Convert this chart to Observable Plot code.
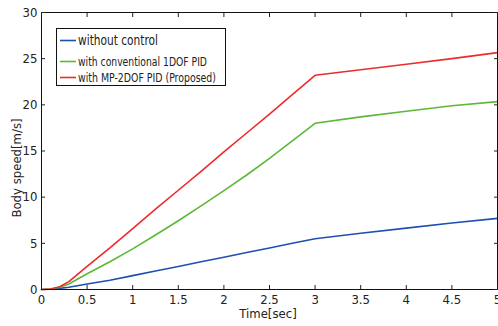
<!DOCTYPE html>
<html><head><meta charset="utf-8">
<script src="https://cdn.jsdelivr.net/npm/d3@7"></script>
<script src="https://cdn.jsdelivr.net/npm/@observablehq/plot@0.6"></script>
<style>
body{margin:0;background:#fff;}
#chart{position:relative;width:498px;height:326px;}
</style></head>
<body><div id="chart"></div>
<script>
const seriesNames = ["without control","with conventional 1DOF PID","with MP-2DOF PID (Proposed)"];
const seriesColors = ["#1f4fb0","#5cb836","#ee2b2b"];
const timeVals  = [0,0.1,0.2,0.3,0.5,0.75,1,1.25,1.5,1.75,2,2.25,2.5,2.75,3,3.5,4,4.5,5];
const blueVals  = [0,0.03,0.12,0.25,0.6,1.0,1.5,2.0,2.5,3.0,3.5,4.0,4.5,5.0,5.5,6.1,6.65,7.2,7.7];
const greenVals = [0,0.05,0.25,0.6,1.7,3.0,4.4,5.9,7.45,9.05,10.7,12.4,14.2,16.1,18.0,18.7,19.3,19.9,20.35];
const redVals   = [0,0.05,0.3,0.85,2.5,4.5,6.6,8.7,10.75,12.8,14.9,16.95,19.0,21.1,23.2,23.8,24.4,25.0,25.65];
const xTicks = [0,0.5,1,1.5,2,2.5,3,3.5,4,4.5,5];
const yTicks = [0,5,10,15,20,25,30];

const FONT = '"DejaVu Sans Condensed","Liberation Sans Narrow","Open Sans",sans-serif';
const allVals = [blueVals, greenVals, redVals];
const data = [];
allVals.forEach((vals, s) => timeVals.forEach((t, i) => data.push({t, v: vals[i], s: seriesNames[s]})));

const plot = Plot.plot({
  width: 498, height: 326,
  marginLeft: 41, marginRight: 1, marginTop: 12, marginBottom: 37,
  style: {fontFamily: FONT, fontSize: "13px", color: "#222"},
  x: {domain: [0, 5]},
  y: {domain: [0, 30]},
  color: {domain: seriesNames, range: seriesColors},
  marks: [
    Plot.line(data, {x: "t", y: "v", stroke: "s", strokeWidth: 1.6}),
    Plot.frame({stroke: "#111", strokeWidth: 1}),
    Plot.axisX({anchor: "bottom", ticks: xTicks, tickSize: -4, tickPadding: 9, tickFormat: d => String(d), fontSize: 13, label: null}),
    Plot.axisX({anchor: "top", ticks: xTicks, tickSize: -4, tickFormat: () => "", label: null}),
    Plot.axisY({anchor: "left", ticks: yTicks, tickSize: -4, tickPadding: 8, tickFormat: d => String(d), fontSize: 13, label: null}),
    Plot.axisY({anchor: "right", ticks: yTicks, tickSize: -4, tickFormat: () => "", label: null})
  ]
});
document.getElementById("chart").appendChild(plot);

const svg = d3.select(plot);
svg.append("text").attr("x", 268).attr("y", 318).attr("text-anchor", "middle")
  .attr("font-size", 13).attr("fill", "#222").text("Time[sec]");
svg.append("text").attr("transform", "translate(21,168) rotate(-90)").attr("text-anchor", "middle")
  .attr("font-size", 13).attr("fill", "#222").text("Body speed[m/s]");

const lg = svg.append("g");
lg.append("rect").attr("x", 56.5).attr("y", 28.5).attr("width", 169).attr("height", 57)
  .attr("fill", "#fff").attr("stroke", "#111").attr("stroke-width", 1);
const rowsY = [40.5, 61.5, 77.5];
const rowsFont = [14, 12, 12];
const rowsLen = [80, 129, 138];
seriesNames.forEach((n, i) => {
  lg.append("line").attr("x1", 60).attr("x2", 76).attr("y1", rowsY[i]).attr("y2", rowsY[i])
    .attr("stroke", seriesColors[i]).attr("stroke-width", 1.6);
  lg.append("text").attr("x", 78).attr("y", rowsY[i]).attr("dy", "0.35em")
    .attr("text-anchor", "start")
    .attr("textLength", rowsLen[i]).attr("lengthAdjust", "spacingAndGlyphs")
    .attr("font-size", rowsFont[i]).attr("fill", "#222").text(n);
});
</script></body></html>
